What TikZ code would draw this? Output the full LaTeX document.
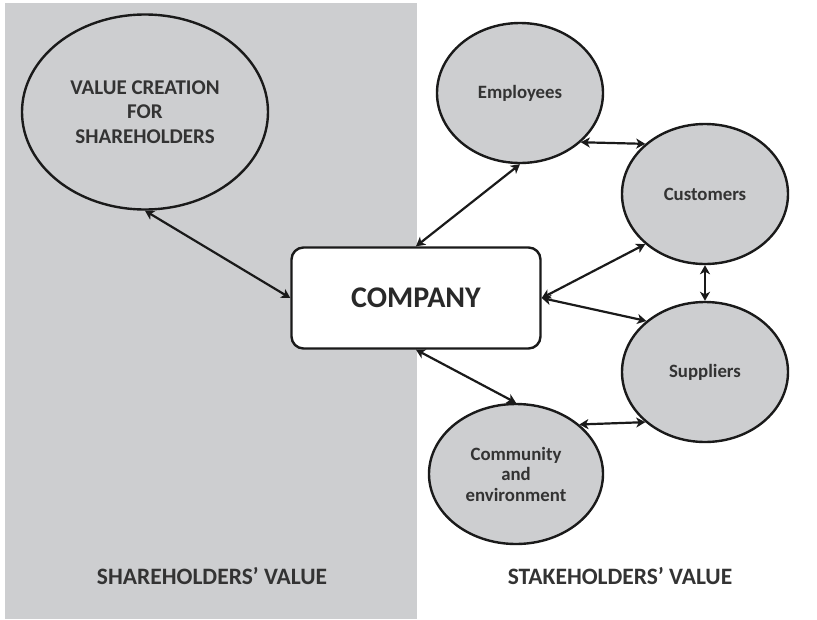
\documentclass[tikz,border=0pt]{standalone}
\usepackage{fontspec}
\setmainfont{Carlito}
\usetikzlibrary{shapes.geometric,arrows.meta}
\definecolor{panelGray}{HTML}{CDCED0}
\definecolor{txtGray}{HTML}{333333}
\definecolor{lineDark}{HTML}{1A1A1A}

\begin{document}
\begin{tikzpicture}
  [x=1pt,y=-1pt,
  stake/.style={ellipse,draw=lineDark,line width=2.4pt,fill=panelGray,
    inner sep=0pt,minimum width=166pt,minimum height=140pt,
    align=center,text=txtGray,font=\fontsize{18.8}{20.5}\selectfont\bfseries},
  share/.style={stake,minimum width=246pt,minimum height=195pt,
    font=\fontsize{21}{24.5}\selectfont\bfseries},
  comp/.style={rectangle,rounded corners=12pt,draw=lineDark,line width=2.4pt,
    fill=white,minimum width=249pt,minimum height=101pt,text=txtGray!80!black,
    font=\fontsize{30}{36}\selectfont\bfseries},
  side/.style={text=txtGray,font=\fontsize{23.5}{28}\selectfont\bfseries},
  link/.style={{Stealth[length=9pt,width=10pt,inset=2.5pt]}-{Stealth[length=9pt,width=10pt,inset=2.5pt]},
    draw=lineDark,line width=2.2pt}]

  \useasboundingbox[fill=white] (0,0) rectangle (817,619);
  \fill[panelGray] (5,3) rectangle (417,619);

  \node[share] (vc) at (145,112) {VALUE CREATION\\FOR\\SHAREHOLDERS};
  \node[comp] (co) at (416,298) {COMPANY};

  \node[stake] (emp) at (520,93) {Employees};
  \node[stake] (cus) at (705,194) {Customers};
  \node[stake] (sup) at (705,372) {Suppliers};
  \node[stake,minimum width=174pt] (com) at (516,474) {Community\\and\\environment};

  \node[side] (shv) at (212,576) {SHAREHOLDERS’ VALUE};
  \node[side] (stv) at (620,576) {STAKEHOLDERS’ VALUE};

  \draw[link] (vc.south) -- (co.west);
  \draw[link] (emp.south) -- (co.north);
  \draw[link] (emp.-39) -- (cus.140);
  \draw[link] (cus.220) -- (co.east);
  \draw[link] (co.east) -- (sup.139);
  \draw[link] (cus.south) -- (sup.north);
  \draw[link] (co.south) -- (com.north);
  \draw[link] (com.38) -- (sup.220);
\end{tikzpicture}
\end{document}
